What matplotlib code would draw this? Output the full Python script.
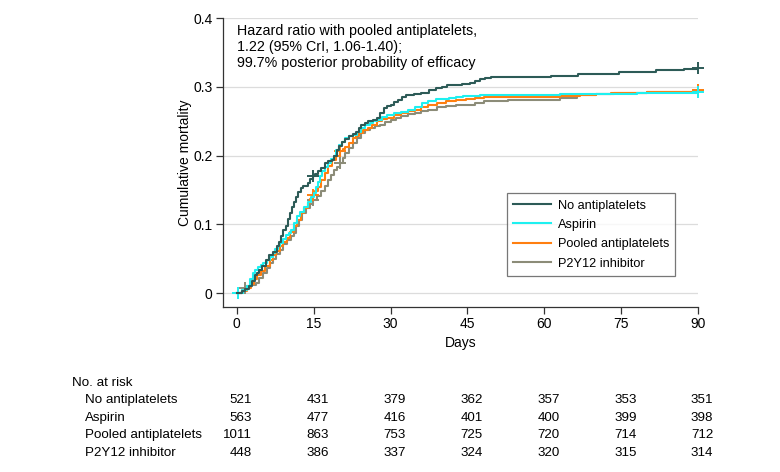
import matplotlib.pyplot as plt
import matplotlib.transforms as mtrans

plt.rcParams['font.family'] = ['Liberation Sans', 'DejaVu Sans']

# ---- data ----
groups = ['No antiplatelets', 'Aspirin', 'Pooled antiplatelets', 'P2Y12 inhibitor']
colors = ['#2d5b57', '#1ef0f0', '#ff7f10', '#8c8c78']

t_none = [0, 1, 1.5, 2.3, 3, 3.5, 4, 4.4, 5, 5.7, 6.3, 7, 7.8, 8.3, 8.7, 9.1, 9.5, 10, 10.4, 10.8,
          11.1, 11.5, 12, 12.5, 13, 13.8, 14.3, 14.8, 15.3, 15.8, 16.5, 17.2, 17.8, 18.5, 19, 19.5,
          20, 20.6, 21.2, 21.9, 22.6, 23.3, 23.8, 24.3, 25, 25.6, 26.5, 27.3, 28, 28.7, 29.3, 30,
          30.7, 31.4, 32.2, 33, 34.5, 36, 37.5, 38.8, 40, 41, 42.8, 44, 45.5, 46.5, 47.5, 48.5,
          49.6, 61.3, 66.5, 70, 74.5, 78, 81.9, 85, 87.3, 90]
y_none = [0, 0.003, 0.006, 0.010, 0.018, 0.026, 0.030, 0.034, 0.040, 0.048, 0.055, 0.060, 0.068,
          0.075, 0.083, 0.092, 0.098, 0.108, 0.116, 0.125, 0.133, 0.140, 0.147, 0.153, 0.156,
          0.160, 0.166, 0.170, 0.174, 0.177, 0.182, 0.190, 0.192, 0.194, 0.200, 0.208, 0.214,
          0.220, 0.224, 0.228, 0.232, 0.235, 0.240, 0.245, 0.248, 0.250, 0.252, 0.255, 0.262,
          0.269, 0.272, 0.274, 0.278, 0.281, 0.285, 0.288, 0.289, 0.291, 0.295, 0.298, 0.300,
          0.302, 0.303, 0.304, 0.306, 0.309, 0.311, 0.313, 0.314, 0.315, 0.318, 0.319, 0.321,
          0.322, 0.324, 0.325, 0.326, 0.327]

t_asp = [0.3, 1, 2, 2.6, 3.1, 3.6, 4.2, 4.7, 5.2, 5.8, 6.5, 7, 7.5, 8, 8.5, 9, 9.6, 10.1, 10.6,
         11.2, 11.8, 12.4, 13.1, 13.8, 14.5, 15, 15.5, 15.9, 16.2, 16.7, 17.2, 17.8, 18.3, 18.9,
         19.4, 19.9, 20.5, 21.2, 21.9, 22.6, 23.4, 24.3, 25.1, 26, 26.6, 27.3, 28.3, 29.3, 30.7,
         32.1, 33.4, 34.7, 36.1, 37.4, 38.8, 40.2, 41.5, 42.8, 44.2, 45.8, 47.5, 63, 66.3, 78, 90]
y_asp = [0, 0.005, 0.010, 0.020, 0.030, 0.034, 0.038, 0.041, 0.044, 0.049, 0.053, 0.058, 0.064,
         0.068, 0.073, 0.079, 0.085, 0.088, 0.092, 0.102, 0.112, 0.118, 0.126, 0.133, 0.140,
         0.146, 0.155, 0.162, 0.170, 0.178, 0.184, 0.190, 0.195, 0.199, 0.208, 0.216, 0.220,
         0.225, 0.228, 0.230, 0.235, 0.240, 0.244, 0.247, 0.250, 0.252, 0.256, 0.259, 0.262,
         0.264, 0.267, 0.271, 0.276, 0.279, 0.282, 0.283, 0.284, 0.285, 0.286, 0.287, 0.288,
         0.289, 0.290, 0.291, 0.292]

t_pool = [0, 1, 2, 2.7, 3.4, 4, 4.7, 5.5, 6.4, 7, 7.7, 8.4, 9.1, 9.8, 10.4, 11.1, 11.8, 12.5,
          13.1, 13.8, 14.3, 14.8, 15.3, 15.8, 16.5, 17.2, 17.8, 18.5, 19.3, 20.2, 20.7, 21.2,
          21.9, 22.6, 23.2, 23.9, 24.7, 25.6, 26.4, 27.3, 28.3, 29.3, 30.6, 32, 33.4, 34.7, 36,
          37.4, 39, 40.8, 42.8, 44.8, 46.5, 48.2, 63, 66.9, 70, 73, 80, 90]
y_pool = [0, 0.003, 0.007, 0.013, 0.020, 0.026, 0.032, 0.040, 0.048, 0.055, 0.062, 0.068, 0.074,
          0.080, 0.089, 0.097, 0.106, 0.116, 0.124, 0.131, 0.137, 0.143, 0.149, 0.155, 0.165,
          0.175, 0.185, 0.194, 0.200, 0.206, 0.210, 0.213, 0.219, 0.225, 0.229, 0.233, 0.237,
          0.240, 0.245, 0.250, 0.253, 0.255, 0.259, 0.262, 0.265, 0.267, 0.271, 0.274, 0.277,
          0.279, 0.281, 0.282, 0.284, 0.285, 0.286, 0.288, 0.289, 0.291, 0.293, 0.295]

t_p2y = [0, 1, 1.7, 2.7, 3.7, 4.4, 5.1, 5.8, 6.4, 7.1, 7.7, 8.4, 9.1, 9.8, 10.5, 11.1, 11.6, 12.1,
         12.8, 13.5, 14.2, 14.8, 15.6, 16.5, 17.2, 17.8, 18.4, 18.9, 19.5, 20.2, 20.7, 21.2, 21.9,
         22.6, 23.5, 24.3, 25.1, 26, 27, 28, 29, 30, 31, 32, 33.4, 34.7, 36, 37.4, 39, 40.8, 42.8,
         44.8, 46.5, 48.2, 50.5, 53, 63, 66.3, 70, 73.7, 80, 90]
y_p2y = [0, 0.005, 0.010, 0.012, 0.015, 0.022, 0.029, 0.037, 0.044, 0.050, 0.057, 0.063, 0.071,
         0.078, 0.083, 0.087, 0.097, 0.107, 0.116, 0.124, 0.130, 0.136, 0.142, 0.148, 0.156,
         0.165, 0.172, 0.179, 0.184, 0.189, 0.197, 0.204, 0.211, 0.218, 0.226, 0.233, 0.237,
         0.240, 0.243, 0.245, 0.249, 0.252, 0.255, 0.257, 0.260, 0.262, 0.265, 0.267, 0.270,
         0.272, 0.273, 0.274, 0.277, 0.279, 0.280, 0.281, 0.284, 0.288, 0.289, 0.291, 0.293, 0.296]

# censoring marks
cens_t = [[14.8, 90], [0.3, 90], [14.8, 20.2, 90], [1.5, 14.8, 20.2, 90]]
cens_y = [[0.170, 0.327], [0, 0.293], [0.143, 0.206, 0.295], [0.008, 0.136, 0.189, 0.296]]

risk_days = [0, 15, 30, 45, 60, 75, 90]
risk_none = [521, 431, 379, 362, 357, 353, 351]
risk_asp = [563, 477, 416, 401, 400, 399, 398]
risk_pool = [1011, 863, 753, 725, 720, 714, 712]
risk_p2y = [448, 386, 337, 324, 320, 315, 314]

# ---- figure ----
fig = plt.figure(figsize=(7.8, 4.72), dpi=100)
ax = fig.add_axes([223 / 780, 1 - 307 / 472, 475 / 780, 289 / 472])

for yv in [0, 0.1, 0.2, 0.3, 0.4]:
    ax.axhline(yv, color='#dcdcdc', linewidth=0.9, zorder=0)

series = [(t_none, y_none), (t_asp, y_asp), (t_pool, y_pool), (t_p2y, y_p2y)]
# draw in reverse so the dark line sits on top
for i in [3, 2, 1, 0]:
    t, y = series[i]
    ax.step(t, y, where='post', color=colors[i], linewidth=1.5, zorder=3 + (3 - i))
    ax.plot(cens_t[i], cens_y[i], '+', color=colors[i], markersize=8, mew=1.4,
            zorder=3 + (3 - i), clip_on=False)

handles = [plt.Line2D([], [], color=c, linewidth=1.5) for c in colors]
leg = ax.legend(handles, groups, loc='upper left', bbox_to_anchor=(0.597, 0.394),
                frameon=True, fancybox=False, fontsize=9.2, handlelength=3.0,
                borderpad=0.5, labelspacing=0.58, handletextpad=0.5, borderaxespad=0)
leg.get_frame().set_edgecolor('#555555')
leg.get_frame().set_linewidth(0.9)

ax.text(0, 0.392, 'Hazard ratio with pooled antiplatelets,\n1.22 (95% CrI, 1.06-1.40);\n'
        '99.7% posterior probability of efficacy', fontsize=10.3, va='top', ha='left',
        linespacing=1.2)

ax.set_xlim(-2.7, 90)
ax.set_ylim(-0.02, 0.4)
ax.set_xticks(risk_days)
ax.set_yticks([0, 0.1, 0.2, 0.3, 0.4])
ax.set_yticklabels(['0', '0.1', '0.2', '0.3', '0.4'])
ax.spines['top'].set_visible(False)
ax.spines['right'].set_visible(False)
for s in ['left', 'bottom']:
    ax.spines[s].set_color('#333333')
    ax.spines[s].set_linewidth(0.9)
ax.tick_params(labelsize=10, length=5, width=0.9, color='#333333', pad=2.5)
ax.set_xlabel('Days', fontsize=10, labelpad=3)
ax.set_ylabel('Cumulative mortality', fontsize=10, labelpad=1)

# ---- number at risk table ----
fig.text(72 / 780, 1 - 383 / 472, 'No. at risk', fontsize=9.6, va='center')
rows = [risk_none, risk_asp, risk_pool, risk_p2y]
blend = mtrans.blended_transform_factory(ax.transData, fig.transFigure)
for r, (name, vals) in enumerate(zip(groups, rows)):
    yy = 1 - (400 + r * 17.6) / 472
    fig.text(85 / 780, yy, name, fontsize=9.6, va='center')
    for d, v in zip(risk_days, vals):
        ax.text(d + 3.0, yy, str(v), transform=blend, fontsize=9.6, va='center', ha='right',
                clip_on=False)

fig.savefig('out.png', dpi=100)
